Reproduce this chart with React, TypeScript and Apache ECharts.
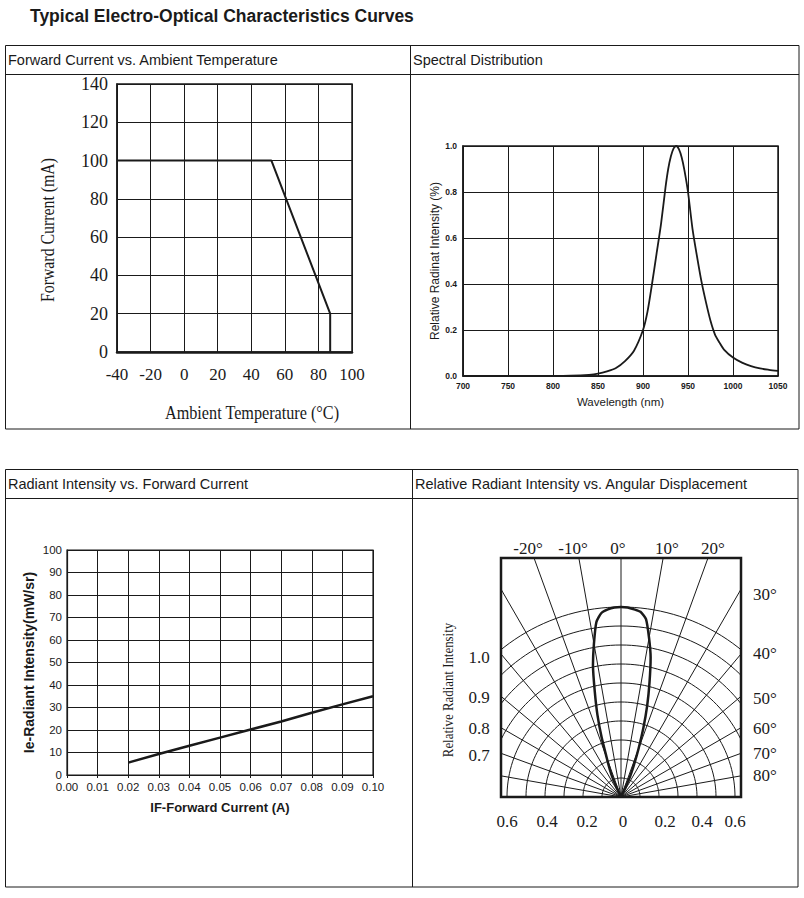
import React, { useEffect, useRef } from 'react';
import * as echarts from 'echarts';

const SANS = '"Liberation Sans", Arial, Helvetica, sans-serif';
const SERIF = '"Liberation Serif", "Times New Roman", Times, serif';
const INK = '#1a1a1a';

// ---------- Texts ----------
const PAGE_TITLE = 'Typical Electro-Optical Characteristics Curves';
const PANEL_TITLES = [
  'Forward Current vs. Ambient Temperature',
  'Spectral Distribution',
  'Radiant Intensity vs. Forward Current',
  'Relative Radiant Intensity vs. Angular Displacement',
];

// ---------- Panel 1: Forward Current vs. Ambient Temperature ----------
const derateTemp = [-40, 52, 87, 87];
const derateCurrent = [100, 100, 20, 0];

// ---------- Panel 2: Spectral Distribution ----------
const wavelength = [700, 750, 800, 820, 840, 850, 860, 870, 880, 890, 900, 905, 910, 915, 920, 925, 928, 931, 934, 937, 940, 943, 946, 950, 955, 960, 965, 970, 975, 980, 985, 990, 1000, 1010, 1020, 1030, 1040, 1050];
const spectrum = [0, 0, 0, 0.001, 0.005, 0.01, 0.02, 0.035, 0.065, 0.11, 0.2, 0.28, 0.4, 0.53, 0.66, 0.82, 0.9, 0.955, 0.99, 1.0, 0.985, 0.95, 0.895, 0.8, 0.64, 0.52, 0.41, 0.32, 0.24, 0.18, 0.145, 0.115, 0.08, 0.058, 0.043, 0.033, 0.027, 0.022];

// ---------- Panel 3: Radiant Intensity vs. Forward Current ----------
const forwardCurrentA = [0.02, 0.03, 0.04, 0.05, 0.06, 0.07, 0.08, 0.09, 0.10];
const radiantIntensity = [5.5, 9.3, 13, 16.6, 20.2, 23.8, 27.7, 31.4, 35];

// ---------- Panel 4: Relative Radiant Intensity vs. Angular Displacement ----------
const lobeAngleDeg = [-26, -24, -22, -20, -18, -16, -14, -12, -10, -8, -6, -4, -2, 0, 2, 4, 6, 8, 10, 12, 14, 16, 18, 20, 22, 24, 26];
const lobeIntensity = [0, 0.10, 0.16, 0.22, 0.33, 0.45, 0.57, 0.71, 0.82, 0.93, 0.975, 0.99, 0.998, 1.0, 0.998, 0.99, 0.98, 0.945, 0.85, 0.75, 0.62, 0.5, 0.38, 0.27, 0.18, 0.11, 0];
const ringRadii = [0.1, 0.2, 0.3, 0.4, 0.5, 0.6, 0.7, 0.8, 0.9, 1.0];
const rayAnglesDeg = [-80, -70, -60, -50, -40, -30, -20, -10, 0, 10, 20, 30, 40, 50, 60, 70, 80];
const topAngleLabels = ['-20°', '-10°', '0°', '10°', '20°'];
const rightAngleLabels = ['30°', '40°', '50°', '60°', '70°', '80°'];
const leftScaleLabels = ['1.0', '0.9', '0.8', '0.7'];
const bottomScaleLabels = ['0.6', '0.4', '0.2', '0', '0.2', '0.4', '0.6'];

// layout of the polar-panel labels (pixels)
const topLabelX = [528, 573, 618, 667, 713];
const rightLabelY = [594, 653, 698, 728, 753, 775];
const leftLabelY = [657, 697, 728, 755];
const bottomLabelX = [507, 547, 587, 623, 665, 702, 735];

const rad = (d: number) => (d * Math.PI) / 180;

export default function App() {
  const ref = useRef<HTMLDivElement>(null);

  useEffect(() => {
    if (!ref.current) return;
    const chart = echarts.init(ref.current, undefined, { renderer: 'svg' });

    const axisLabelSerif = (size: number, margin: number) => ({
      color: INK, fontFamily: SERIF, fontSize: size, margin,
    });
    const split = { show: true, lineStyle: { color: INK, width: 1 } };
    const axisLineInk = (w: number) => ({ show: true, onZero: false, lineStyle: { color: INK, width: w } });

    const polarSeries: any[] = [];
    ringRadii.forEach((r) => {
      const pts: number[][] = [];
      for (let a = -90; a <= 90; a += 2) pts.push([r * Math.sin(rad(a)), r * Math.cos(rad(a))]);
      polarSeries.push({
        type: 'line', xAxisIndex: 3, yAxisIndex: 3, data: pts, showSymbol: false, silent: true,
        clip: true, lineStyle: { color: INK, width: 1 },
      });
    });
    rayAnglesDeg.forEach((a) => {
      polarSeries.push({
        type: 'line', xAxisIndex: 3, yAxisIndex: 3,
        data: [[0, 0], [1.6 * Math.sin(rad(a)), 1.6 * Math.cos(rad(a))]],
        showSymbol: false, silent: true, clip: true, lineStyle: { color: INK, width: 1 },
      });
    });
    polarSeries.push({
      type: 'line', xAxisIndex: 3, yAxisIndex: 3,
      data: lobeAngleDeg.map((a, i) => [lobeIntensity[i] * Math.sin(rad(a)), lobeIntensity[i] * Math.cos(rad(a))]),
      showSymbol: false, silent: true, clip: true, smooth: 0.2,
      lineStyle: { color: INK, width: 2.5 },
    });

    const txt = (text: string, x: number, y: number, font: any, extra: any = {}) => ({
      type: 'text', x, y, silent: true, ...extra,
      style: { text, fill: INK, ...font },
    });

    const graphics: any[] = [
      // tables
      { type: 'rect', silent: true, shape: { x: 5.5, y: 45.5, width: 793.5, height: 383.5 }, style: { fill: 'none', stroke: INK, lineWidth: 1 } },
      { type: 'line', silent: true, shape: { x1: 5, y1: 74.5, x2: 799, y2: 74.5 }, style: { stroke: INK, lineWidth: 1 } },
      { type: 'line', silent: true, shape: { x1: 410.5, y1: 45, x2: 410.5, y2: 429 }, style: { stroke: INK, lineWidth: 1 } },
      { type: 'rect', silent: true, shape: { x: 5.5, y: 469.5, width: 792.5, height: 417.5 }, style: { fill: 'none', stroke: INK, lineWidth: 1 } },
      { type: 'line', silent: true, shape: { x1: 5, y1: 498.5, x2: 798, y2: 498.5 }, style: { stroke: INK, lineWidth: 1 } },
      { type: 'line', silent: true, shape: { x1: 412.5, y1: 469, x2: 412.5, y2: 887 }, style: { stroke: INK, lineWidth: 1 } },
      // titles
      txt(PAGE_TITLE, 30, 16, { font: `bold 17.5px ${SANS}`, verticalAlign: 'middle' }),
      txt(PANEL_TITLES[0], 8, 60, { font: `14.5px ${SANS}`, verticalAlign: 'middle' }),
      txt(PANEL_TITLES[1], 413, 60, { font: `14.5px ${SANS}`, verticalAlign: 'middle' }),
      txt(PANEL_TITLES[2], 8, 484, { font: `14.5px ${SANS}`, verticalAlign: 'middle' }),
      txt(PANEL_TITLES[3], 415, 484, { font: `14.5px ${SANS}`, verticalAlign: 'middle' }),
      // panel 1 axis titles
      txt('Forward Current (mA)', 48, 230, { font: `18px ${SERIF}`, align: 'center', verticalAlign: 'middle' }, { rotation: Math.PI / 2, scaleX: 0.88 }),
      txt('Ambient Temperature (°C)', 252, 413, { font: `18px ${SERIF}`, align: 'center', verticalAlign: 'middle' }, { scaleX: 0.9 }),
      // panel 4 labels
      txt('Relative Radiant Intensity', 448, 690, { font: `14px ${SERIF}`, align: 'center', verticalAlign: 'middle' }, { rotation: Math.PI / 2, scaleX: 0.92 }),
      ...topAngleLabels.map((t, i) => txt(t, topLabelX[i], 548, { font: `17px ${SERIF}`, align: 'center', verticalAlign: 'middle' })),
      ...rightAngleLabels.map((t, i) => txt(t, 753, rightLabelY[i], { font: `17px ${SERIF}`, align: 'left', verticalAlign: 'middle' })),
      ...leftScaleLabels.map((t, i) => txt(t, 479, leftLabelY[i], { font: `17px ${SERIF}`, align: 'center', verticalAlign: 'middle' })),
      ...bottomScaleLabels.map((t, i) => txt(t, bottomLabelX[i], 821, { font: `17px ${SERIF}`, align: 'center', verticalAlign: 'middle' })),
    ];

    chart.setOption({
      animation: false,
      backgroundColor: '#ffffff',
      grid: [
        { left: 117, top: 84, width: 235, height: 268, show: true, borderColor: INK, borderWidth: 1.5, backgroundColor: 'transparent' },
        { left: 463, top: 146, width: 315, height: 230, show: true, borderColor: INK, borderWidth: 1.5, backgroundColor: 'transparent' },
        { left: 67, top: 550, width: 306, height: 225, show: true, borderColor: INK, borderWidth: 1.2, backgroundColor: 'transparent' },
        { left: 501, top: 558, width: 240, height: 239, show: true, borderColor: INK, borderWidth: 2.5, backgroundColor: 'transparent' },
      ],
      xAxis: [
        {
          gridIndex: 0, type: 'value', min: -40, max: 100, interval: 20,
          axisLine: axisLineInk(2.5), axisTick: { show: false },
          axisLabel: axisLabelSerif(17, 14), splitLine: split,
        },
        {
          gridIndex: 1, type: 'value', min: 700, max: 1050, interval: 50,
          axisLine: axisLineInk(1.5), axisTick: { show: false },
          axisLabel: { color: INK, fontFamily: SANS, fontWeight: 'bold', fontSize: 8.5, margin: 5, formatter: (v: number) => String(v) },
          splitLine: split,
          name: 'Wavelength (nm)', nameLocation: 'middle', nameGap: 20,
          nameTextStyle: { color: INK, fontFamily: SANS, fontSize: 11.5 },
        },
        {
          gridIndex: 2, type: 'value', min: 0, max: 0.1, interval: 0.01,
          axisLine: axisLineInk(1.2), axisTick: { show: true, length: 3, lineStyle: { color: INK } },
          axisLabel: { color: INK, fontFamily: SANS, fontSize: 11.5, margin: 6, formatter: (v: number) => v.toFixed(2) },
          splitLine: split,
          name: 'IF-Forward Current (A)', nameLocation: 'middle', nameGap: 26,
          nameTextStyle: { color: INK, fontFamily: SANS, fontWeight: 'bold', fontSize: 13 },
        },
        { gridIndex: 3, type: 'value', min: -120 / 190, max: 120 / 190, show: false },
      ],
      yAxis: [
        {
          gridIndex: 0, type: 'value', min: 0, max: 140, interval: 20,
          axisLine: axisLineInk(1.5), axisTick: { show: false },
          axisLabel: axisLabelSerif(18, 9), splitLine: split,
        },
        {
          gridIndex: 1, type: 'value', min: 0, max: 1, interval: 0.2,
          axisLine: axisLineInk(1.5), axisTick: { show: false },
          axisLabel: { color: INK, fontFamily: SANS, fontWeight: 'bold', fontSize: 8.5, margin: 6, formatter: (v: number) => v.toFixed(1) },
          splitLine: split,
          name: 'Relative Radinat Intensity (%)', nameLocation: 'middle', nameGap: 22,
          nameTextStyle: { color: INK, fontFamily: SANS, fontSize: 12 },
        },
        {
          gridIndex: 2, type: 'value', min: 0, max: 100, interval: 10,
          axisLine: axisLineInk(1.2), axisTick: { show: false },
          axisLabel: { color: INK, fontFamily: SANS, fontSize: 11.5, margin: 5, verticalAlign: 'bottom', lineHeight: 11, padding: [0, 0, -5, 0] },
          splitLine: split,
          name: 'Ie-Radiant Intensity(mW/sr)', nameLocation: 'middle', nameGap: 31,
          nameTextStyle: { color: INK, fontFamily: SANS, fontWeight: 'bold', fontSize: 14 },
        },
        { gridIndex: 3, type: 'value', min: 0, max: 239 / 190, show: false },
      ],
      series: [
        {
          type: 'line', xAxisIndex: 0, yAxisIndex: 0, showSymbol: false, silent: true,
          data: derateTemp.map((t, i) => [t, derateCurrent[i]]),
          lineStyle: { color: INK, width: 2 },
        },
        {
          type: 'line', xAxisIndex: 1, yAxisIndex: 1, showSymbol: false, silent: true, smooth: 0.25,
          data: wavelength.map((w, i) => [w, spectrum[i]]),
          lineStyle: { color: INK, width: 1.8 },
        },
        {
          type: 'line', xAxisIndex: 2, yAxisIndex: 2, showSymbol: false, silent: true,
          data: forwardCurrentA.map((c, i) => [c, radiantIntensity[i]]),
          lineStyle: { color: INK, width: 2.5 },
        },
        ...polarSeries,
      ],
      graphic: graphics,
    });

    return () => chart.dispose();
  }, []);

  return (
    <div
      ref={ref}
      style={{ position: 'fixed', left: 0, top: 0, width: 804, height: 898, background: '#fff' }}
    />
  );
}
